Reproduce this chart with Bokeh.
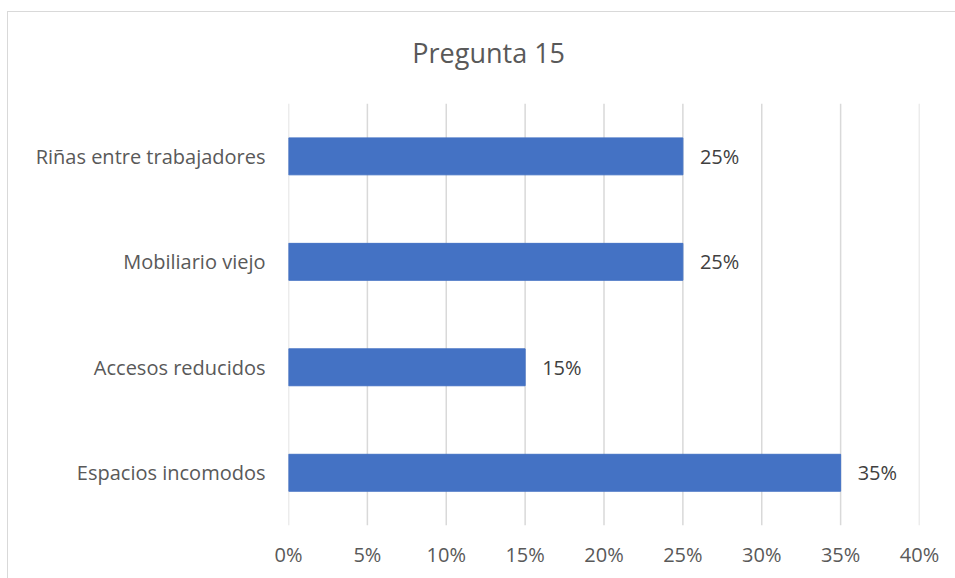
from bokeh.plotting import figure
from bokeh.models import ColumnDataSource, LabelSet, Label, FixedTicker, CustomJSTickFormatter, Range1d
from bokeh.core.properties import value
from bokeh.embed import file_html
from bokeh.resources import INLINE

categories = ["Espacios incomodos", "Accesos reducidos", "Mobiliario viejo", "Riñas entre trabajadores"]
values = [35, 15, 25, 25]
labels = ["35%", "15%", "25%", "25%"]
x_ticks = [0, 5, 10, 15, 20, 25, 30, 35, 40]
title_text = "Pregunta 15"

pos = list(range(len(categories)))
src = ColumnDataSource(dict(pos=pos, val=values, lab=labels))

n = len(categories)
p = figure(x_range=(0, 40), y_range=Range1d(-0.5, n - 0.5 + 0.864), width=948, height=567,
           output_backend="svg", toolbar_location=None,
           min_border_left=280, min_border_right=37, min_border_top=0, min_border_bottom=54)

# vertical gridlines, spanning only the category area
p.segment(x0=x_ticks, x1=x_ticks, y0=[-0.5] * len(x_ticks), y1=[n - 0.5] * len(x_ticks),
          line_color="#d9d9d9", line_width=1.5)

p.hbar(y="pos", right="val", left=0, height=0.35, source=src, color="#4472C4")

p.add_layout(LabelSet(x="val", y="pos", text="lab", source=src, x_offset=17,
                      text_baseline="middle", text_font=value("Open Sans"), text_font_size="20px",
                      text_color="#404040"))

p.add_layout(Label(x=12.69, y=n - 0.5 + 0.484, text=title_text,
                   text_font="Open Sans", text_font_size="27px", text_color="#595959",
                   text_baseline="middle", text_align="center"))

p.xaxis.ticker = FixedTicker(ticks=x_ticks)
p.xaxis.formatter = CustomJSTickFormatter(code="return tick + '%'")
p.yaxis.ticker = FixedTicker(ticks=pos)
p.yaxis.major_label_overrides = {i: c for i, c in zip(pos, categories)}
for ax in (p.xaxis, p.yaxis):
    ax.axis_line_color = None
    ax.major_tick_line_color = None
    ax.minor_tick_line_color = None
    ax.major_label_text_font = "Open Sans"
    ax.major_label_text_font_size = "20px"
    ax.major_label_text_color = "#595959"
p.xaxis.major_label_standoff = 9
p.yaxis.major_label_standoff = 17

p.xgrid.grid_line_color = None
p.ygrid.grid_line_color = None
p.outline_line_color = None
p.styles = {"border-left": "1px solid #d9d9d9", "border-top": "1px solid #d9d9d9",
            "margin-left": "7px", "margin-top": "11px"}

open("out.html", "w").write(file_html(p, INLINE))
